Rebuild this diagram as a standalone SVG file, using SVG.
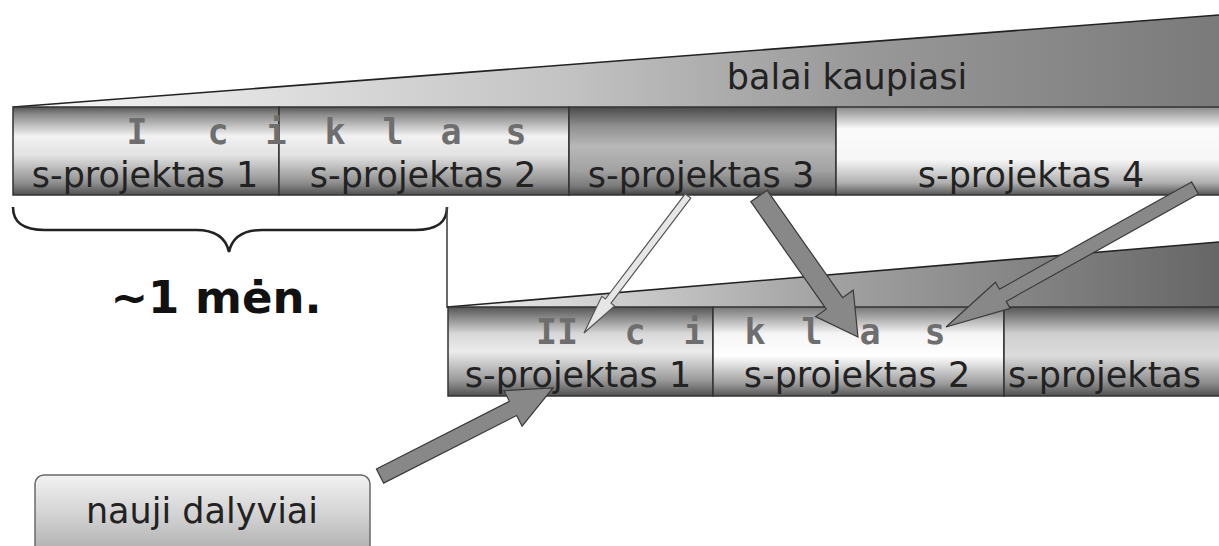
<svg xmlns="http://www.w3.org/2000/svg" width="1219" height="546" viewBox="0 0 1219 546">
<style>
.lbl{font-family:"DejaVu Sans","Verdana",sans-serif;font-size:35px;fill:#222;text-anchor:middle}
.cik{font-family:"DejaVu Sans Mono",monospace;font-weight:bold;font-size:35px;fill:#6e6e6e;text-anchor:middle}
.seg{stroke:#333;stroke-width:1.5}
.wedge{stroke:none}
.edge{fill:none;stroke:#222;stroke-width:1.6}
.arrow{fill:#888;stroke:#3a3a3a;stroke-width:1.2;stroke-linejoin:miter}
.thin{fill:#e6e6e6;stroke:#555;stroke-width:1.2}
</style>
<defs>
<linearGradient id="gA" x1="0" y1="0" x2="0" y2="1">
<stop offset="0" stop-color="#555"/><stop offset="0.08" stop-color="#888"/><stop offset="0.33" stop-color="#f2f2f2"/><stop offset="0.55" stop-color="#e2e2e2"/><stop offset="0.86" stop-color="#8f8f8f"/><stop offset="1" stop-color="#505050"/>
</linearGradient>
<linearGradient id="gB" x1="0" y1="0" x2="0" y2="1">
<stop offset="0" stop-color="#4a4a4a"/><stop offset="0.22" stop-color="#909090"/><stop offset="0.45" stop-color="#b8b8b8"/><stop offset="0.72" stop-color="#a2a2a2"/><stop offset="0.9" stop-color="#7a7a7a"/><stop offset="1" stop-color="#444"/>
</linearGradient>
<linearGradient id="gC" x1="0" y1="0" x2="0" y2="1">
<stop offset="0" stop-color="#8a8a8a"/><stop offset="0.25" stop-color="#fbfbfb"/><stop offset="0.6" stop-color="#f6f6f6"/><stop offset="0.86" stop-color="#b0b0b0"/><stop offset="1" stop-color="#555"/>
</linearGradient>
<linearGradient id="gD" x1="0" y1="0" x2="0" y2="1">
<stop offset="0" stop-color="#555"/><stop offset="0.3" stop-color="#d8d8d8"/><stop offset="0.5" stop-color="#ececec"/><stop offset="0.82" stop-color="#9a9a9a"/><stop offset="1" stop-color="#505050"/>
</linearGradient>
<linearGradient id="gE" x1="0" y1="0" x2="0" y2="1">
<stop offset="0" stop-color="#777"/><stop offset="0.3" stop-color="#f5f5f5"/><stop offset="0.55" stop-color="#fff"/><stop offset="0.86" stop-color="#9c9c9c"/><stop offset="1" stop-color="#555"/>
</linearGradient>
<linearGradient id="gF" x1="0" y1="0" x2="0" y2="1">
<stop offset="0" stop-color="#555"/><stop offset="0.3" stop-color="#cfcfcf"/><stop offset="0.55" stop-color="#dcdcdc"/><stop offset="0.86" stop-color="#8a8a8a"/><stop offset="1" stop-color="#505050"/>
</linearGradient>
<linearGradient id="gW1" gradientUnits="userSpaceOnUse" x1="13" y1="0" x2="1219" y2="0">
<stop offset="0" stop-color="#f7f7f7"/><stop offset="0.45" stop-color="#c4c4c4"/><stop offset="0.7" stop-color="#999"/><stop offset="1" stop-color="#7a7a7a"/>
</linearGradient>
<linearGradient id="gW2" gradientUnits="userSpaceOnUse" x1="447" y1="0" x2="1219" y2="0">
<stop offset="0" stop-color="#f0f0f0"/><stop offset="0.45" stop-color="#a8a8a8"/><stop offset="1" stop-color="#666"/>
</linearGradient>
<linearGradient id="gBox" x1="0" y1="0" x2="0" y2="1">
<stop offset="0" stop-color="#f2f2f2"/><stop offset="0.5" stop-color="#d0d0d0"/><stop offset="1" stop-color="#a8a8a8"/>
</linearGradient>
</defs>

<g id="wedge1">
<polygon class="wedge" fill="url(#gW1)" points="13,107 1219,15 1219,108 13,108"/>
<line class="edge" x1="13" y1="107" x2="1219" y2="15"/>
<text class="lbl" x="847" y="89">balai kaupiasi</text>
</g>

<g id="cycle1">
<rect id="c1s1" class="seg" x="13" y="107" width="266" height="88" fill="url(#gA)"/>
<rect id="c1s2" class="seg" x="279" y="107" width="290" height="88" fill="url(#gA)"/>
<rect id="c1s3" class="seg" x="569" y="107" width="267" height="88" fill="url(#gB)"/>
<rect id="c1s4" class="seg" x="836" y="107" width="386" height="88" fill="url(#gC)"/>
<text class="cik" y="144"><tspan x="137">I</tspan><tspan x="218">c</tspan><tspan x="276">i</tspan><tspan x="335">k</tspan><tspan x="393">l</tspan><tspan x="451">a</tspan><tspan x="516">s</tspan></text>
<text class="lbl" x="145" y="187">s-projektas 1</text>
<text class="lbl" x="423" y="187">s-projektas 2</text>
<text class="lbl" x="701" y="187">s-projektas 3</text>
<text class="lbl" x="1031" y="187">s-projektas 4</text>
</g>

<g id="brace">
<path d="M13,207 C13,222 22,230 45,230 L196,230 C215,230 226,238 229,252 C232,238 243,230 262,230 L415,230 C438,230 447,222 447,207" fill="none" stroke="#222" stroke-width="2.6"/>
<line x1="447" y1="207" x2="447" y2="308" stroke="#444" stroke-width="1.6"/>
</g>

<g id="duration">
<text x="216" y="313" style="font-family:'DejaVu Sans',Verdana,sans-serif;font-weight:bold;font-size:45px;fill:#111;text-anchor:middle">~1 mėn.</text>
</g>

<g id="wedge2">
<polygon class="wedge" fill="url(#gW2)" points="447,307 1219,242 1219,308 447,308"/>
<line class="edge" x1="447" y1="307" x2="1219" y2="242"/>
</g>

<g id="cycle2">
<rect id="c2s1" class="seg" x="448" y="307" width="265" height="89" fill="url(#gD)"/>
<rect id="c2s2" class="seg" x="713" y="307" width="291" height="89" fill="url(#gE)"/>
<rect id="c2s3" class="seg" x="1004" y="307" width="218" height="89" fill="url(#gF)"/>
<text class="cik" y="344"><tspan x="557">II</tspan><tspan x="635">c</tspan><tspan x="694">i</tspan><tspan x="755">k</tspan><tspan x="812">l</tspan><tspan x="870">a</tspan><tspan x="935">s</tspan></text>
<text class="lbl" x="578" y="387">s-projektas 1</text>
<text class="lbl" x="857" y="387">s-projektas 2</text>
<text class="lbl" x="1008" y="387" style="text-anchor:start">s-projektas</text>
</g>

<g id="newParticipants">
<rect x="35" y="475" width="335" height="85" rx="9" ry="9" fill="url(#gBox)" stroke="#6a6a6a" stroke-width="1.5"/>
<text class="lbl" x="202" y="523">nauji dalyviai</text>
</g>

<g id="connectors">
<polygon class="thin" points="685.2,193.9 605.4,299.0 601.8,296.3 584,333 614.6,306.0 611.0,303.2 690.8,198.1"/>
<polygon class="arrow" points="750.8,201.7 826.3,309.2 815.6,316.6 858,337 853.2,290.2 842.6,297.7 767.2,190.3"/>
<polygon class="arrow" points="1191.6,181.9 999.4,289.2 995.5,282.2 946,327 1010.1,308.4 1006.2,301.4 1198.4,194.1"/>
<polygon class="arrow" points="383.6,483.1 516.6,415.5 522.1,426.2 553,388 503.9,390.6 509.4,401.3 376.4,468.9"/>
</g>
</svg>
